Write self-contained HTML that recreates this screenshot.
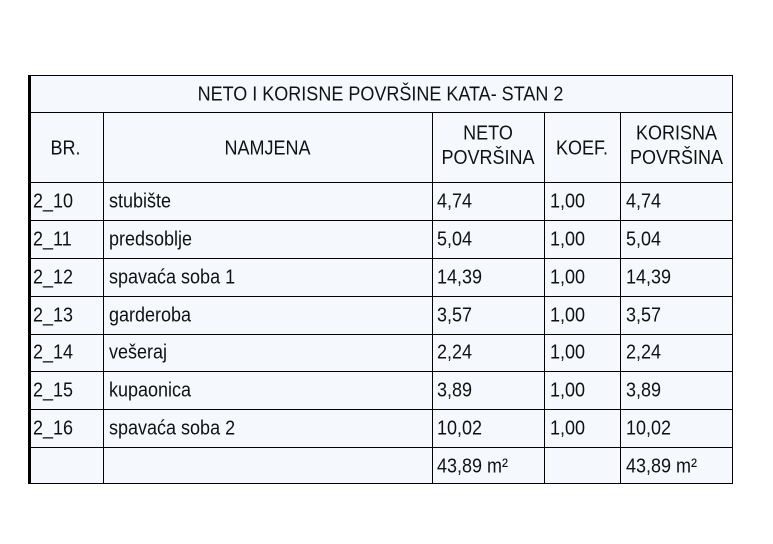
<!DOCTYPE html>
<html><head><meta charset="utf-8"><style>
body{margin:0;width:773px;height:544px;background:#fff;position:relative;overflow:hidden;font-family:"Liberation Sans",Arial,sans-serif;color:#111}
.t{position:absolute;left:28px;top:75px;width:705px;height:409px;background:#f5f8fc;border:1px solid #000;border-left:3px solid #000;box-sizing:border-box}
.h{position:absolute;height:1px;background:#000}
.v{position:absolute;width:1px;background:#000}
.x{position:absolute;font-size:18px;white-space:nowrap;line-height:22px;transform:scaleY(1.12)}
.c{text-align:center}
</style></head><body>
<div class="t"></div>
<div class="h" style="left:28px;width:705px;top:112px"></div>
<div class="h" style="left:28px;width:705px;top:182px"></div>
<div class="h" style="left:28px;width:705px;top:220px"></div>
<div class="h" style="left:28px;width:705px;top:258px"></div>
<div class="h" style="left:28px;width:705px;top:296px"></div>
<div class="h" style="left:28px;width:705px;top:334px"></div>
<div class="h" style="left:28px;width:705px;top:371px"></div>
<div class="h" style="left:28px;width:705px;top:409px"></div>
<div class="h" style="left:28px;width:705px;top:447px"></div>
<div class="v" style="left:103px;top:112px;height:372px"></div>
<div class="v" style="left:432px;top:112px;height:372px"></div>
<div class="v" style="left:544px;top:112px;height:372px"></div>
<div class="v" style="left:620px;top:112px;height:372px"></div>

<div class="x c" style="left:28px;width:705px;top:83px">NETO I KORISNE POVRŠINE KATA- STAN 2</div>
<div class="x c" style="left:28px;width:75px;top:137px">BR.</div>
<div class="x c" style="left:103px;width:329px;top:137px">NAMJENA</div>
<div class="x c" style="left:432px;width:112px;top:123px">NETO<br>POVRŠINA</div>
<div class="x c" style="left:544px;width:76px;top:137px">KOEF.</div>
<div class="x c" style="left:620px;width:113px;top:123px">KORISNA<br>POVRŠINA</div>

<div class="x" style="left:33px;top:190px">2_10</div><div class="x" style="left:109px;top:190px">stubište</div><div class="x" style="left:437px;top:190px">4,74</div><div class="x" style="left:550px;top:190px">1,00</div><div class="x" style="left:626px;top:190px">4,74</div>
<div class="x" style="left:33px;top:228px">2_11</div><div class="x" style="left:109px;top:228px">predsoblje</div><div class="x" style="left:437px;top:228px">5,04</div><div class="x" style="left:550px;top:228px">1,00</div><div class="x" style="left:626px;top:228px">5,04</div>
<div class="x" style="left:33px;top:266px">2_12</div><div class="x" style="left:109px;top:266px">spavaća soba 1</div><div class="x" style="left:437px;top:266px">14,39</div><div class="x" style="left:550px;top:266px">1,00</div><div class="x" style="left:626px;top:266px">14,39</div>
<div class="x" style="left:33px;top:304px">2_13</div><div class="x" style="left:109px;top:304px">garderoba</div><div class="x" style="left:437px;top:304px">3,57</div><div class="x" style="left:550px;top:304px">1,00</div><div class="x" style="left:626px;top:304px">3,57</div>
<div class="x" style="left:33px;top:341px">2_14</div><div class="x" style="left:109px;top:341px">vešeraj</div><div class="x" style="left:437px;top:341px">2,24</div><div class="x" style="left:550px;top:341px">1,00</div><div class="x" style="left:626px;top:341px">2,24</div>
<div class="x" style="left:33px;top:379px">2_15</div><div class="x" style="left:109px;top:379px">kupaonica</div><div class="x" style="left:437px;top:379px">3,89</div><div class="x" style="left:550px;top:379px">1,00</div><div class="x" style="left:626px;top:379px">3,89</div>
<div class="x" style="left:33px;top:417px">2_16</div><div class="x" style="left:109px;top:417px">spavaća soba 2</div><div class="x" style="left:437px;top:417px">10,02</div><div class="x" style="left:550px;top:417px">1,00</div><div class="x" style="left:626px;top:417px">10,02</div>
<div class="x" style="left:437px;top:455px">43,89 m²</div><div class="x" style="left:626px;top:455px">43,89 m²</div>
</body></html>
